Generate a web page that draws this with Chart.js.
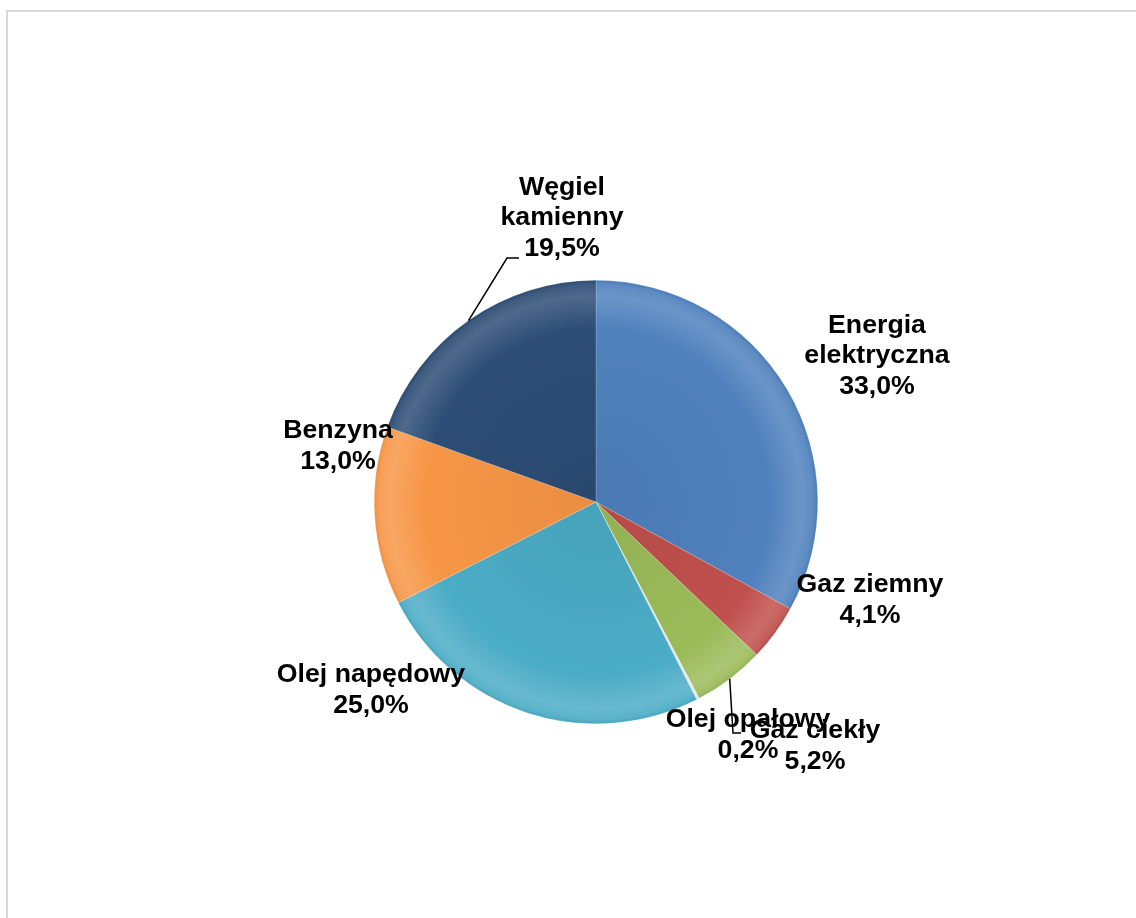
<!DOCTYPE html>
<html>
<head>
<meta charset="utf-8">
<script src="https://cdn.jsdelivr.net/npm/chart.js@4.4.0/dist/chart.umd.min.js"></script>
<style>
    html, body { margin: 0; padding: 0; background: #fff; overflow: hidden; }
    #frame { position: absolute; left: 6px; top: 10px; width: 1200px; height: 1000px; border: 2px solid #d9d9d9; }
    #wrap { position: absolute; left: 0; top: 0; width: 1136px; height: 918px; }
</style>
</head>
<body>
<div id="frame"></div>
<div id="wrap"><canvas id="pieChart"></canvas></div>
<script>
// Fuel shares (percent), clockwise from 12 o'clock
const categories = ["Energia elektryczna", "Gaz ziemny", "Gaz ciekły", "Olej opałowy", "Olej napędowy", "Benzyna", "Węgiel kamienny"];
const shares = [33.0, 4.1, 5.2, 0.2, 25.0, 13.0, 19.5];

const baseColors = ["#4f81bd", "#c0504d", "#9bbb59", "#e6e6e6", "#4bacc6", "#f79646", "#2c4d75"];

// Label lines and placement (offset of text block centre from pie centre, px)
const labelLines = [
    ["Energia", "elektryczna"],
    ["Gaz ziemny"],
    ["Gaz ciekły"],
    ["Olej opałowy"],
    ["Olej napędowy"],
    ["Benzyna"],
    ["Węgiel", "kamienny"]
];
const labelOffsets = [[281, -146], [274, 98], [219, 244], [152, 233], [-225, 188], [-258, -56], [-34, -284]];

// Lighten (amt > 0) or darken (amt < 0) a hex colour
function shade(hex, amt) {
    const n = parseInt(hex.slice(1), 16);
    let r = (n >> 16) & 255, g = (n >> 8) & 255, b = n & 255;
    const f = c => amt >= 0 ? Math.round(c + (255 - c) * amt) : Math.round(c * (1 + amt));
    return `rgb(${f(r)},${f(g)},${f(b)})`;
}

// radial gradient so the rim looks bevelled like the Excel original
function sliceFill(context) {
    const chart = context.chart;
    const base = baseColors[context.dataIndex];
    const area = chart.chartArea;
    if (!area) return base;
    const x = (area.left + area.right) / 2;
    const y = (area.top + area.bottom) / 2;
    const r = Math.min(area.right - area.left, area.bottom - area.top) / 2;
    const g = chart.ctx.createRadialGradient(x, y, 0, x, y, r);
    g.addColorStop(0, shade(base, -0.06));
    g.addColorStop(0.78, base);
    g.addColorStop(0.93, shade(base, 0.16));
    g.addColorStop(0.98, shade(base, 0.08));
    g.addColorStop(1, shade(base, -0.05));
    return g;
}

const fmt = v => v.toFixed(1).replace(".", ",") + "%";

// Draws the data labels and the two leader lines
const labelPlugin = {
    id: "sliceLabels",
    afterDatasetsDraw(chart) {
        const ctx = chart.ctx;
        const arcs = chart.getDatasetMeta(0).data;
        ctx.save();
        ctx.font = "bold 26.7px 'Liberation Sans', Arial, sans-serif";
        ctx.fillStyle = "#000";
        ctx.textAlign = "center";
        ctx.textBaseline = "middle";
        const lh = 30.5;
        arcs.forEach((arc, i) => {
            const lines = labelLines[i].concat([fmt(shares[i])]);
            const cx = arc.x + labelOffsets[i][0];
            const cy = arc.y + labelOffsets[i][1];
            const top = cy - (lines.length - 1) * lh / 2;
            lines.forEach((t, k) => ctx.fillText(t, cx, top + k * lh));
        });

        // leader lines from the mid point of the slice edge
        ctx.strokeStyle = "#000";
        ctx.lineWidth = 1.5;
        const edge = i => {
            const a = arcs[i];
            const mid = (a.startAngle + a.endAngle) / 2;
            return [a.x + Math.cos(mid) * a.outerRadius, a.y + Math.sin(mid) * a.outerRadius];
        };
        // Węgiel kamienny
        let p = edge(6);
        ctx.beginPath();
        ctx.moveTo(p[0], p[1]);
        ctx.lineTo(arcs[6].x - 89, arcs[6].y - 244);
        ctx.lineTo(arcs[6].x - 77, arcs[6].y - 244);
        ctx.stroke();
        // Gaz ciekły
        p = edge(2);
        ctx.beginPath();
        ctx.moveTo(p[0], p[1]);
        ctx.lineTo(arcs[2].x + 137, arcs[2].y + 231);
        ctx.lineTo(arcs[2].x + 145, arcs[2].y + 231);
        ctx.stroke();
        ctx.restore();
    }
};

new Chart(document.getElementById("pieChart"), {
    type: "pie",
    data: {
        labels: categories,
        datasets: [{
            data: shares,
            backgroundColor: sliceFill,
            borderColor: "rgba(255,255,255,0.35)",
            borderWidth: 0.5
        }]
    },
    options: {
        responsive: true,
        maintainAspectRatio: false,
        animation: false,
        layout: { padding: { left: 374, right: 318, top: 280, bottom: 194 } },
        plugins: {
            legend: { display: false },
            tooltip: { enabled: false }
        }
    },
    plugins: [labelPlugin]
});
</script>
</body>
</html>
